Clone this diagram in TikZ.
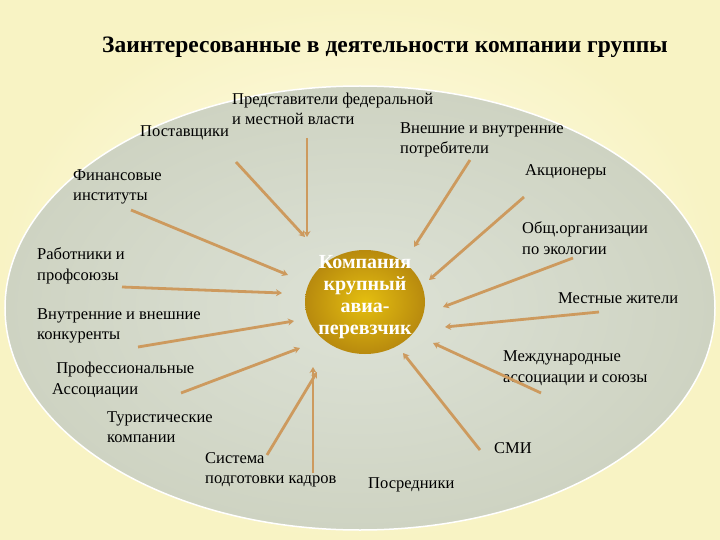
\documentclass[tikz,border=0pt]{standalone}
\usepackage{fontspec}
\setmainfont{Liberation Serif}[BoldFont={Liberation Serif Bold}]
\usetikzlibrary{arrows.meta}
\definecolor{bgy}{HTML}{F8F3C4}
\definecolor{bgl}{HTML}{FFFDEB}
\definecolor{ellf}{HTML}{CED3C2}
\definecolor{ellc}{HTML}{DDE2D6}
\definecolor{arr}{HTML}{CD9A5E}
\definecolor{gold}{HTML}{D9A316}
\definecolor{goldd}{HTML}{B88A0E}
\tikzset{
  lbl/.style={anchor=west, align=left, font=\fontsize{16.5}{20.5}\selectfont, inner sep=0pt},
  arrw/.style={draw=arr, line width=2.8pt, -{Stealth[length=6pt,width=7pt]}},
}
\begin{document}
\begin{tikzpicture}[x=1pt,y=-1pt]
\useasboundingbox (0,0) rectangle (720,540);
\shade[inner color=bgl, outer color=bgy] (0,0) rectangle (720,540);
\shade[inner color=ellc, outer color=ellf, draw=white, line width=1.5pt] (360,308) ellipse [x radius=355, y radius=222];
\node[font=\fontsize{23.5}{26}\selectfont\bfseries] (title) at (385,47) {Заинтересованные в деятельности компании группы};
\shade[inner color=gold!70!yellow, outer color=goldd] (365,302) ellipse [x radius=60, y radius=52];
\node[font=\fontsize{20}{22}\selectfont\bfseries, text=white, align=center] (core) at (365,297) {Компания\\крупный\\авиа-\\перевзчик};
\node[lbl] (a) at (232,109) {Представители федеральной\\и местной власти};
\node[lbl] (b) at (140,133) {Поставщики};
\node[lbl] (c) at (400,140) {Внешние и внутренние\\потребители};
\node[lbl] (d) at (525,172) {Акционеры};
\node[lbl] (e) at (73,187) {Финансовые\\институты};
\node[lbl] (f) at (522,238) {Общ.организации\\по экологии};
\node[lbl] (g) at (37,266) {Работники и\\профсоюзы};
\node[lbl] (h) at (558,298) {Местные жители};
\node[lbl] (i) at (37,326) {Внутренние и внешние\\конкуренты};
\node[lbl] (j) at (503,368) {Международные\\ассоциации и союзы};
\node[lbl] (k) at (52,380) {\ Профессиональные\\Ассоциации};
\node[lbl] (l) at (107,427) {Туристические\\компании};
\node[lbl] (m) at (205,470) {Система\\подготовки кадров};
\node[lbl] (n) at (368,485) {Посредники};
\node[lbl] (o) at (494,448) {СМИ};
\foreach \n/\sx/\sy/\ex/\ey in {
  b/236/162/305/237, a/307/138/307/237, c/470/160/414/247, d/524/197/429/280,
  e/131/210/288/275, f/573/258/443/307, g/122/287/282/293, h/599/312/445/327,
  i/138/347/294/321, j/541/393/433/343, k/181/393/300/348, l/267/455/317/372,
  m/313/473/313/367, o/480/450/403/353}{
  \coordinate (s\n) at (\sx,\sy);
  \coordinate (t\n) at (\ex,\ey);
  \draw[arrw] (s\n) -- (t\n);
}
\end{tikzpicture}
\end{document}
